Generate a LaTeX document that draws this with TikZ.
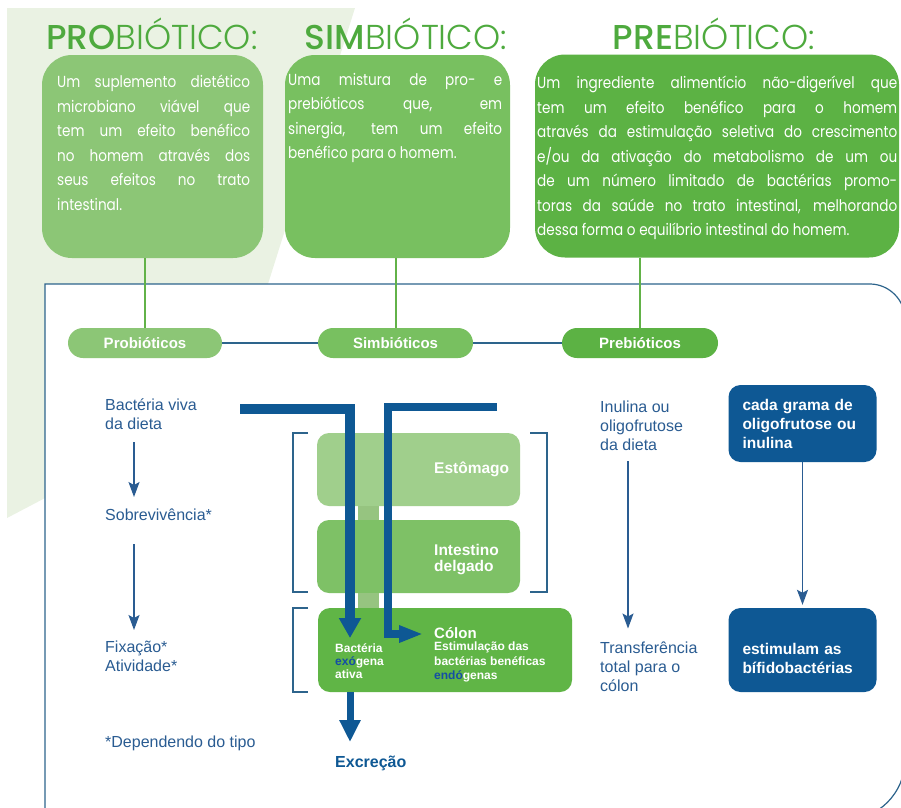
\documentclass[tikz,border=0pt]{standalone}
\usepackage{fontspec}
\setmainfont{Liberation Sans}
\newfontfamily\geofont{Poppins}[UprightFont=* Light, BoldFont=* Medium]
\newfontfamily\geonarrow{Poppins}[FakeStretch=0.85]
\usetikzlibrary{arrows.meta,calc,positioning}

\definecolor{bgsage}{RGB}{234,242,227}
\definecolor{headgreen}{RGB}{78,170,62}
\definecolor{boxone}{RGB}{140,198,118}
\definecolor{boxtwo}{RGB}{120,192,96}
\definecolor{boxthree}{RGB}{92,178,68}
\definecolor{linkgreen}{RGB}{98,178,72}
\definecolor{stomachgreen}{RGB}{160,207,140}
\definecolor{intgreen}{RGB}{126,193,102}
\definecolor{colongreen}{RGB}{96,181,70}
\definecolor{stubgreen}{RGB}{150,196,128}
\definecolor{txtblue}{RGB}{42,92,146}
\definecolor{deepblue}{RGB}{14,88,148}
\definecolor{frameblue}{RGB}{45,100,140}
\definecolor{markblue}{RGB}{20,78,165}

\begin{document}
\begin{tikzpicture}[
  x=1pt, y=-1pt,
  font=\fontsize{16}{19}\selectfont,
  head/.style={font=\geofont\fontsize{34.5}{37}\selectfont, text=headgreen, anchor=base, inner sep=0pt},
  defbox/.style={rounded corners=30pt, minimum height=203pt, inner sep=0pt},
  deftext/.style={font=\geonarrow\fontsize{16}{24.5}\selectfont, text=white, align=justify, anchor=north west, inner sep=0pt,
    execute at begin node={\tolerance=10000\hyphenpenalty=10000}},
  pill/.style={rounded corners=15pt, minimum height=30pt, text=white, font=\bfseries\fontsize{15}{18}\selectfont, inner sep=0pt},
  organ/.style={rounded corners=12pt, minimum width=203pt, minimum height=73pt, inner sep=0pt},
  organtxt/.style={text=white, font=\bfseries\fontsize{15.5}{16.5}\selectfont, align=left, inner sep=0pt},
  smalltxt/.style={text=white, font=\bfseries\fontsize{12}{14.5}\selectfont, align=left, inner sep=0pt, anchor=north west},
  note/.style={text=txtblue, align=left, inner sep=0pt},
  bluebox/.style={fill=deepblue, rounded corners=12pt, text=white, font=\bfseries\fontsize{15.5}{19}\selectfont, align=left, text width=120pt, inner xsep=14pt, inner ysep=0pt},
  arr/.style={-{Stealth[length=15pt,width=11pt,inset=3pt]}, line width=1.3pt, draw=txtblue},
  bigarr/.style={draw=deepblue, line join=miter},
  glink/.style={draw=linkgreen, line width=2pt},
  blink/.style={draw=frameblue, line width=1.2pt},
  brak/.style={draw=frameblue, line width=1.2pt}
]
\useasboundingbox (0,0) rectangle (901,807);
\clip (0,0) rectangle (901,807);

% Background leaf and frame
\fill[bgsage] (7,8) -- (355,8) -- (268,284) -- (150,440) -- (47,497) -- (7,518) -- cycle;
\filldraw[fill=white, draw=frameblue, line width=1.2pt] (45,820) -- (45,284) -- (870,284)
  .. controls (889,284) and (905,300) .. (905,319) -- (905,760)
  .. controls (905,793) and (878,820) .. (845,820) -- cycle;

% Headings
\node[head] (prohead) at (152,49) {\textbf{PRO}BIÓTICO:};
\node[head] (simhead) at (406,49) {\textbf{SIM}BIÓTICO:};
\node[head] (prehead) at (714,49) {\textbf{PRE}BIÓTICO:};

% Definition boxes
\node[defbox, fill=boxone, minimum width=221pt] (probox) at (152.5,156.5) {};
\node[defbox, fill=boxtwo, minimum width=225pt] (simbox) at (397.5,156.5) {};
\node[defbox, fill=boxthree, minimum width=364pt] (prebox) at (717,156) {};

\node[deftext, text width=193pt] (protxt) at (57,75)
  {Um suplemento dietético\linebreak microbiano viável que\linebreak tem um efeito benéfico\linebreak no homem através dos\linebreak seus efeitos no trato\linebreak intestinal.};
\node[deftext, text width=214pt] (simtxt) at (288,73)
  {Uma mistura de pro- e\linebreak prebióticos que, em\linebreak sinergia, tem um efeito\linebreak benéfico para o homem.};
\node[deftext, text width=360pt] (pretxt) at (537,76)
  {Um ingrediente alimentício não-digerível que\linebreak tem um efeito benéfico para o homem\linebreak através da estimulação seletiva do crescimento\linebreak e/ou da ativação do metabolismo de um ou\linebreak de um número limitado de bactérias promo-\linebreak toras da saúde no trato intestinal, melhorando\linebreak dessa forma o equilíbrio intestinal do homem.};

% Category pills
\node[pill, fill=boxone, minimum width=154pt] (propill) at (145,343) {Probióticos};
\node[pill, fill=boxtwo, minimum width=155pt] (simpill) at (395.5,343) {Simbióticos};
\node[pill, fill=boxthree, minimum width=156pt] (prepill) at (640,343) {Prebióticos};

\draw[glink] (propill.north) -- (propill.north |- probox.south);
\draw[glink] (simpill.north) -- (simpill.north |- simbox.south);
\draw[glink] (prepill.north) -- (prepill.north |- prebox.south);
\draw[blink] (propill) -- (simpill);
\draw[blink] (simpill) -- (prepill);

% Probiotic column
\node[note, anchor=north west] (bact) at (105,399) {Bactéria viva\\da dieta};
\node[note, anchor=north west] (sobrev) at (105,509) {Sobrevivência*};
\node[note, anchor=north west] (fixa) at (105,641) {Fixação*\\Atividade*};
\node[note, anchor=base west] (tipo) at (105,747.5) {*Dependendo do tipo};
\coordinate (lcol) at (134,0);
\draw[arr, shorten <=12pt, shorten >=12pt] (bact.south -| lcol) -- (sobrev.north -| lcol);
\draw[arr, shorten <=23pt, shorten >=11pt] (sobrev.south -| lcol) -- (fixa.north -| lcol);

% Digestive tract
\node[organ, fill=stomachgreen] (stomach) at (418.5,469.5) {};
\node[organ, fill=intgreen] (smallint) at (418.5,556.5) {};
\node[organ, fill=colongreen, minimum width=254pt, minimum height=84pt] (colon) at (445,650) {};
\draw[stubgreen, line width=21pt] ([xshift=-50pt]stomach.south) -- ([xshift=-50pt]smallint.north);
\draw[stubgreen, line width=21pt] ([xshift=-50pt]smallint.south) -- ([xshift=-50pt]smallint.south |- colon.north);

\node[organtxt, anchor=base west] (stomtxt) at (434,473.5) {Estômago};
\node[organtxt, anchor=north west] (inttxt) at (434,544) {Intestino\\delgado};
\node[organtxt, anchor=base west, font=\bfseries\fontsize{15}{16}\selectfont] (coltitle) at (434,638) {Cólon};
\node[smalltxt] (coltxt) at (434,642) {Estimulação das\\bactérias benéficas\\\textcolor{markblue}{endó}genas};
\node[smalltxt, font=\bfseries\fontsize{12}{13}\selectfont] (exotxt) at (335,643.5) {Bactéria\\\textcolor{markblue}{exó}gena\\ativa};

\draw[brak] (308,433) -- (293,433) -- (293,592) -- (308,592);
\draw[brak] (530,433) -- (547,433) -- (547,592) -- (530,592);
\draw[brak] (308,608) -- (293,608) -- (293,692) -- (308,692);

% Thick flows through the tract
\coordinate (exoin) at (240,409);
\coordinate (exoend) at (350,638);
\draw[bigarr, line width=10pt, -{Triangle[length=20pt,width=21pt]}] (exoin) -| (exoend);
\coordinate (endoin) at (497,407);
\coordinate (endoturn) at (388,634);
\coordinate (endoend) at (423,634);
\draw[bigarr, line width=7.5pt, -{Triangle[length=24pt,width=16pt]}] (endoin) -| (endoturn) -- (endoend);

\node[note, anchor=base west, text=deepblue, font=\bfseries\fontsize{16}{19}\selectfont] (excr) at (335,767) {Excreção};
\coordinate (excrtip) at (350,742);
\draw[bigarr, line width=7pt, -{Triangle[length=22pt,width=20pt]}] (colon.south -| exoend) -- (excrtip);

% Prebiotic column
\node[note, anchor=north west] (inul) at (600,401) {Inulina ou\\oligofrutose\\da dieta};
\node[note, anchor=north west] (transf) at (600,641.5) {Transferência\\total para o\\cólon};
\coordinate (rcol) at (628,0);
\draw[arr, shorten <=10pt, shorten >=13pt] (inul.south -| rcol) -- (transf.north -| rcol);

\node[bluebox, minimum height=77pt] (grama) at (802.5,423.5) {cada grama de\\oligofrutose ou\\inulina};
\node[bluebox, minimum height=84pt] (estim) at (802.5,650) {\rule{0pt}{28pt}estimulam as\\bífidobactérias};
\draw[arr, shorten >=3pt] (grama) -- (estim);

\end{tikzpicture}
\end{document}
